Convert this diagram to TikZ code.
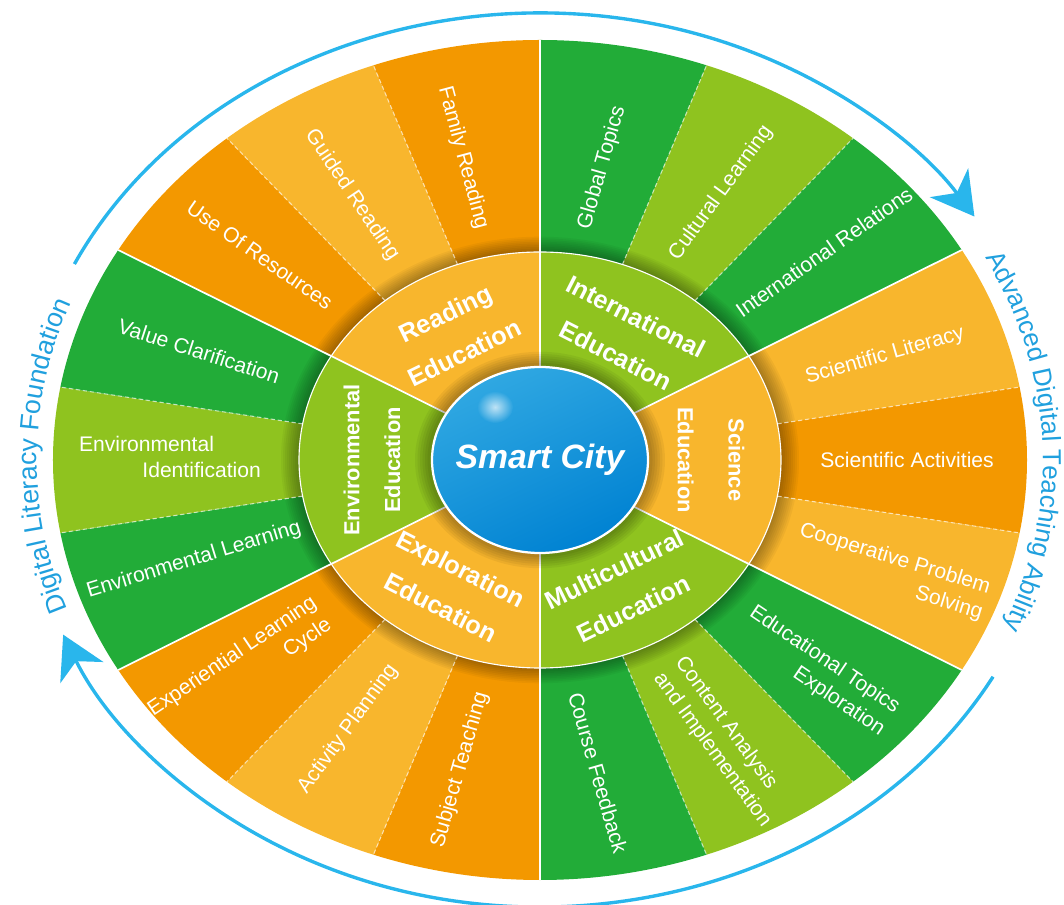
\documentclass[tikz,border=0pt]{standalone}
\usepackage{fontspec}
\setmainfont{Liberation Sans}
\usepackage{tikz}
\usetikzlibrary{arrows.meta, decorations.text, fadings}
\definecolor{wheelorange}{RGB}{243, 152, 0}
\definecolor{wheelgold}{RGB}{248, 182, 45}
\definecolor{wheelgreen}{RGB}{34, 172, 56}
\definecolor{wheellime}{RGB}{143, 195, 31}
\definecolor{wheelblue}{RGB}{41, 182, 236}
\definecolor{sideblue}{RGB}{32, 160, 222}
\definecolor{cityblue}{RGB}{48, 168, 226}
\definecolor{citydeep}{RGB}{0, 130, 210}
\tikzfading[name=softspot, inner color=transparent!0, outer color=transparent!100]

\tikzset{
  seglabel/.style={text=white, font=\fontsize{15}{19}\selectfont, inner sep=1pt},
  ringlabel/.style={text=white, font=\fontsize{18}{31}\selectfont\bfseries, align=center, inner sep=1pt},
  divider/.style={white, line width=1.2pt},
  subdivider/.style={white, opacity=0.6, line width=0.8pt, dash pattern=on 3pt off 2pt},
  cyclearrow/.style={wheelblue, line width=2.4pt, -{Stealth[length=30pt, width=34pt, inset=9pt]}},
}

\begin{document}
\begin{tikzpicture}[x=0.025cm, y=0.025cm]
\useasboundingbox (-540,-445) rectangle (524,460);

% Outer ring, three sub-topics per field
\foreach \a/\c in {80/wheelgreen, 60/wheellime, 40/wheelgreen, 20/wheelgold, 0/wheelorange, -20/wheelgold,
    -40/wheelgreen, -60/wheellime, -80/wheelgreen, -100/wheelorange, -120/wheelgold, -140/wheelorange,
    -160/wheelgreen, -180/wheellime, -200/wheelgreen, -220/wheelorange, -240/wheelgold, -260/wheelorange}
    \fill[\c] (0,0) -- (\a+10:487 and 420) arc[start angle=\a+10, end angle=\a-10, x radius=487, y radius=420] -- cycle;

% Shadow of the inner ring
\foreach \k [evaluate=\k as \rx using 241+2*\k, evaluate=\k as \ry using 208+1.7*\k] in {1,...,9}
    \fill[black, opacity=0.04] (0,0) ellipse [x radius=\rx, y radius=\ry];

% Dashed lines inside each field
\foreach \a in {70, 50, 10, -10, -50, -70, -110, -130, -170, 170, 130, 110}
    \draw[subdivider] (\a:241 and 208) -- (\a:487 and 420);

% Inner ring, six fields
\foreach \a/\c in {120/wheelgold, 60/wheellime, 0/wheelgold, -60/wheellime, -120/wheelgold, 180/wheellime}
    \fill[\c] (0,0) -- (\a+30:241 and 208) arc[start angle=\a+30, end angle=\a-30, x radius=241, y radius=208] -- cycle;
\draw[white, line width=0.8pt] (0,0) ellipse [x radius=241, y radius=208];

% Borders between fields
\foreach \a in {90, 30, -30, -90, -150, 150}
    \draw[divider] (0,0) -- (\a:487 and 420);

% Centre ball
\foreach \k [evaluate=\k as \rx using 110+2.5*\k, evaluate=\k as \ry using 95+2.2*\k] in {1,...,6}
    \fill[black, opacity=0.05] (0,0) ellipse [x radius=\rx, y radius=\ry];
\shade[top color=cityblue, bottom color=citydeep, shading angle=25] (0,0) ellipse [x radius=108, y radius=93];
\fill[white, opacity=0.7, path fading=softspot] (-45,53) ellipse [x radius=18, y radius=16];
\draw[white, line width=1.6pt] (0,0) ellipse [x radius=108, y radius=93];
\node[text=white, font=\fontsize{24}{28}\selectfont\bfseries\itshape] (city) at (0,0) {Smart City};

% Fields
\node[ringlabel, rotate=26] (reading) at (-85,127) {Reading\\Education};
\node[ringlabel, rotate=-27] (international) at (86,124) {International\\Education};
\node[ringlabel, rotate=-90, font=\fontsize{15.5}{36}\selectfont\bfseries] (science) at (171,0) {Science\\Education};
\node[ringlabel, rotate=26] (multicultural) at (84,-129) {Multicultural\\Education};
\node[ringlabel, rotate=-27] (exploration) at (-89,-128) {Exploration\\Education};
\node[ringlabel, rotate=90, font=\fontsize{15.5}{29}\selectfont\bfseries] (environmental) at (-168,0) {Environmental\\Education};

% Sub-topics
\node[seglabel, rotate=74] (globtopics) at (62,292) {Global Topics};
\node[seglabel, rotate=54] (culturallearn) at (181,267) {Cultural Learning};
\node[seglabel, rotate=35] (intrelations) at (284,208) {International Relations};
\node[seglabel, rotate=16] (scilit) at (345,104) {Scientific Literacy};
\node[seglabel] (sciact) at (367,0) {Scientific Activities};
\node[seglabel, rotate=-17, align=right] (coopsolve) at (351,-112) {Cooperative Problem\\Solving};
\node[seglabel, rotate=-34, align=right] (edutopics) at (277,-211) {Educational Topics\\Exploration};
\node[seglabel, rotate=-54, align=left] (contentanalysis) at (183,-282) {Content Analysis\\and Implementation};
\node[seglabel, rotate=-74] (coursefeed) at (58,-313) {Course Feedback};
\node[seglabel, rotate=74] (subjteach) at (-80,-310) {Subject Teaching};
\node[seglabel, rotate=54] (actplan) at (-192,-269) {Activity Planning};
\node[seglabel, rotate=34, align=right] (explcycle) at (-300,-208) {Experiential Learning\\Cycle};
\node[seglabel, rotate=17] (envlearn) at (-346,-100) {Environmental Learning};
\node[seglabel, align=left] (envident) at (-370,3) {Environmental\\\hspace*{3em}Identification};
\node[seglabel, rotate=-18] (valueclar) at (-341,109) {Value Clarification};
\node[seglabel, rotate=-35] (useres) at (-280,205) {Use Of Resources};
\node[seglabel, rotate=-56] (guidedread) at (-188,265) {Guided Reading};
\node[seglabel, rotate=-75] (familyread) at (-77,302) {Family Reading};

% Cycle arrows
\draw[cyclearrow] (154:518 and 447) arc[start angle=154, end angle=33, x radius=518, y radius=447];
\draw[cyclearrow] (-29:518 and 447) arc[start angle=-29, end angle=-157, x radius=518, y radius=447];

% Side captions
\path[decorate, decoration={text along path, text align=center, text color=sideblue,
    text={|\fontsize{19}{22}\selectfont|Digital Literacy Foundation}}]
    (222:503 and 434) arc[start angle=222, end angle=137, x radius=503, y radius=434];
\path[decorate, decoration={text along path, text align=center, text color=sideblue,
    text={|\fontsize{18.5}{22}\selectfont|Advanced Digital Teaching Ability}}]
    (45:503 and 434) arc[start angle=45, end angle=-40, x radius=503, y radius=434];
\end{tikzpicture}
\end{document}
